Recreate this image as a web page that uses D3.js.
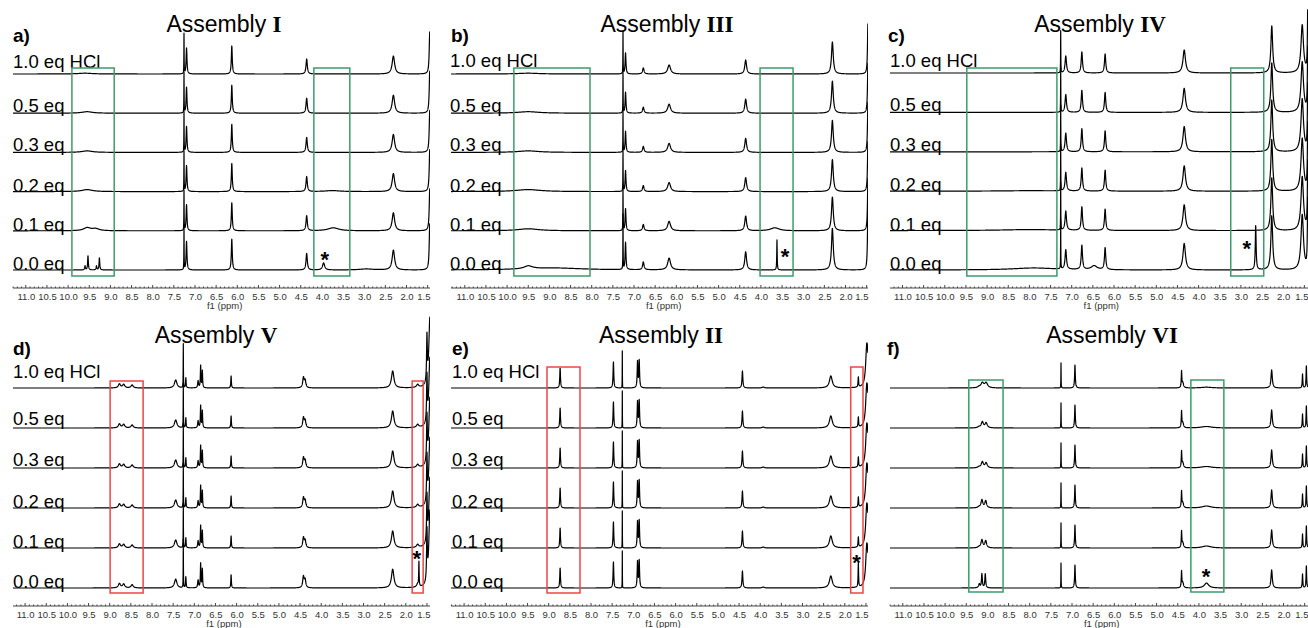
<!DOCTYPE html>
<html>
<head>
<meta charset="utf-8">
<script src="https://cdn.jsdelivr.net/npm/d3@7"></script>
<style>
  body { margin: 0; background: #fff; }
  text { font-family: "Liberation Sans", Arial, sans-serif; }
</style>
</head>
<body>
<svg id="chart" width="1308" height="628"></svg>
<script>

// ---------- data ----------
const rowLabels = ["1.0 eq HCl", "0.5 eq", "0.3 eq", "0.2 eq", "0.1 eq", "0.0 eq"];
const ppmTicks = d3.range(11.0, 1.49, -0.5);

// peaks common to every trace: [ppm, intensity, half width (ppm)]
// row specific peaks: [row, ppm, intensity, half width]  (row 0 = 1.0 eq ... 5 = 0.0 eq)

// Assembly I
const peaksI = [[7.26, 40, 0.003], [7.20, 26, 0.012], [6.13, 28, 0.013], [4.36, 15, 0.018],
  [2.31, 18, 0.035], [1.45, 42, 0.015]];
const rowPeaksI = [[0, 9.6, 0.8, 0.2], [1, 9.55, 1.5, 0.15], [2, 9.55, 1.5, 0.15], [3, 9.55, 2, 0.15],
  [3, 3.75, 1, 0.2], [4, 9.55, 3, 0.1], [4, 9.35, 2, 0.1], [4, 3.73, 3, 0.15],
  [5, 9.60, 4, 0.01], [5, 9.53, 14, 0.01], [5, 9.33, 4, 0.01], [5, 9.26, 12, 0.01],
  [5, 3.96, 7, 0.03], [5, 2.95, 1, 0.2]];
const rowScaleI = [1, 1, 1, 1, 1, 1.1];
const boxesI = [[9.91, 8.91], [4.19, 3.34]];
const starI = [3.93, 14];

// Assembly III
const peaksIII = [[7.26, 42, 0.003], [7.20, 21, 0.012], [6.78, 6, 0.02], [6.17, 9, 0.04],
  [4.36, 14, 0.025], [2.31, 32, 0.025], [1.47, 50, 0.012]];
const rowPeaksIII = [[0, 9.5, 0.8, 0.3], [1, 9.5, 1.5, 0.3], [2, 9.5, 1.5, 0.3], [3, 9.5, 2, 0.35],
  [4, 9.5, 2, 0.3], [4, 3.67, 3, 0.12], [5, 9.5, 3, 0.12], [5, 8.9, 2, 0.8],
  [5, 3.62, 30, 0.006]];
const rowScaleIII = [1, 1, 1, 1, 1.05, 1.3];
const boxesIII = [[9.84, 8.04], [4.02, 3.24]];
const starIII = [3.43, 17];

// Assembly IV
const peaksIV = [[7.26, 42, 0.003], [7.14, 17, 0.02], [6.76, 21, 0.018], [6.21, 19, 0.018],
  [4.34, 23, 0.035], [2.27, 47, 0.025], [1.55, 48, 0.035], [1.42, 60, 0.01]];
const rowPeaksIV = [[3, 8.0, 0.5, 0.8], [4, 8.0, 1, 0.8], [5, 7.9, 2, 0.6], [5, 6.47, 4, 0.08],
  [5, 2.65, 44, 0.012]];
const rowScaleIV = [1, 1.05, 1.1, 1.1, 1.12, 1.15];
const boxesIV = [[9.48, 7.35], [3.24, 2.46]];
const starIV = [2.86, 25];

// Assembly V
const peaksV = [[8.77, 4, 0.03], [8.67, 3.5, 0.03], [8.47, 3, 0.03], [7.44, 8, 0.035],
  [7.26, 44, 0.003], [7.20, 10, 0.008], [6.91, 7, 0.012], [6.85, 22, 0.008], [6.81, 17, 0.008],
  [6.13, 12, 0.008], [4.42, 10, 0.02], [4.38, 7, 0.02], [2.31, 17, 0.035], [1.72, 3, 0.03],
  [1.50, 45, 0.01], [1.43, 70, 0.03]];
const rowPeaksV = [[5, 1.69, 24, 0.006]];
const rowScaleV = [1, 1, 1, 1, 1, 1.1];
const boxesV = [[8.99, 8.21], [1.85, 1.59]];
const starV = [1.74, 33];

// Assembly II
const peaksII = [[8.73, 20, 0.01], [7.47, 26, 0.01], [7.26, 37, 0.002], [6.90, 26, 0.01],
  [6.86, 27, 0.01], [4.42, 17, 0.012], [3.93, 1, 0.03], [2.33, 12, 0.04], [1.68, 10, 0.008],
  [1.48, 40, 0.03], [1.42, 50, 0.02]];
const rowPeaksII = [[5, 1.68, 14, 0.006]];
const rowScaleII = [1, 1, 1, 1, 1, 1];
const boxesII = [[9.04, 8.26], [1.86, 1.57]];
const starII = [1.72, 29];

// Assembly VI
const peaksVI = [[9.20, 1, 0.03], [7.26, 25, 0.003], [6.93, 23, 0.01], [4.41, 16, 0.008],
  [4.38, 5, 0.02], [2.28, 18, 0.018], [1.55, 14, 0.008], [1.46, 22, 0.008]];
const rowPeaksVI = [[0, 9.12, 5, 0.04], [0, 9.03, 5, 0.04], [0, 3.82, 0.8, 0.15],
  [1, 9.12, 6, 0.03], [1, 9.03, 5, 0.03], [1, 3.82, 1.5, 0.15],
  [2, 9.12, 6, 0.03], [2, 9.03, 5, 0.03], [2, 3.82, 1.5, 0.15],
  [3, 9.13, 8, 0.025], [3, 9.04, 7, 0.025], [3, 3.82, 2, 0.12],
  [4, 9.13, 8, 0.025], [4, 9.04, 7, 0.025], [4, 3.82, 2, 0.12],
  [5, 9.19, 3, 0.015], [5, 9.13, 14, 0.012], [5, 9.05, 14, 0.012], [5, 3.82, 5, 0.06]];
const rowScaleVI = [1, 1, 1, 1, 1, 1];
const boxesVI = [[9.44, 8.63], [4.19, 3.41]];
const starVI = [3.83, 15];

// ---------- layout ----------
const GREEN = "#3d9c6c", RED = "#ee4545";
const panels = [
  { letter: "a)", numeral: "I", peaks: peaksI, rowPeaks: rowPeaksI, rowScale: rowScaleI, boxes: boxesI, star: starI,
    color: GREEN, left: 13, right: 430, x11: 25.8, base: 74, step: 39.2, axisY: 288, boxY: [68, 276],
    titleX: 224, titleY: 32, letterX: 13, letterY: 42, labelX: 13, labelOff: [6, 1, 1, 0, 0, 0], labels: true },
  { letter: "b)", numeral: "III", peaks: peaksIII, rowPeaks: rowPeaksIII, rowScale: rowScaleIII, boxes: boxesIII, star: starIII,
    color: GREEN, left: 451, right: 868, x11: 464.8, base: 74, step: 39.2, axisY: 288, boxY: [68, 276],
    titleX: 667, titleY: 32, letterX: 451, letterY: 42, labelX: 450, labelOff: [7, 1, 1, 0, 0, 0], labels: true },
  { letter: "c)", numeral: "IV", peaks: peaksIV, rowPeaks: rowPeaksIV, rowScale: rowScaleIV, boxes: boxesIV, star: starIV,
    color: GREEN, left: 890, right: 1308, x11: 902.5, base: 73, step: 39.4, axisY: 288, boxY: [68, 276],
    titleX: 1100, titleY: 32, letterX: 888, letterY: 42, labelX: 890, labelOff: [6, 1, 1, 0, 0, 0], labels: true },
  { letter: "d)", numeral: "V", peaks: peaksV, rowPeaks: rowPeaksV, rowScale: rowScaleV, boxes: boxesV, star: starV,
    color: RED, left: 13, right: 430, x11: 25.1, base: 388, step: 40, axisY: 606, boxY: [381, 593],
    titleX: 216, titleY: 343, letterX: 13, letterY: 355, labelX: 13, labelOff: [10, 3, 2, 0, 0, 0], labels: true },
  { letter: "e)", numeral: "II", peaks: peaksII, rowPeaks: rowPeaksII, rowScale: rowScaleII, boxes: boxesII, star: starII,
    color: RED, left: 451, right: 868, x11: 464.1, base: 388, step: 40, axisY: 606, boxY: [367, 593],
    titleX: 661, titleY: 343, letterX: 452, letterY: 355, labelX: 452, labelOff: [10, 3, 2, 0, 0, 0], labels: true },
  { letter: "f)", numeral: "VI", peaks: peaksVI, rowPeaks: rowPeaksVI, rowScale: rowScaleVI, boxes: boxesVI, star: starVI,
    color: GREEN, left: 890, right: 1308, x11: 902.8, base: 388, step: 40, axisY: 606, boxY: [380, 592],
    titleX: 1112, titleY: 343, letterX: 887, letterY: 355, labelX: 890, labelOff: [0, 0, 0, 0, 0, 0], labels: false }
];
const PX_PER_PPM = 42.3;

const svg = d3.select("#chart");

panels.forEach((p, pi) => {
  const g = svg.append("g");

  // ppm -> x
  const x = d3.scaleLinear()
    .domain([11.0, 1.5])
    .range([p.x11, p.x11 + 9.5 * PX_PER_PPM]);
  const ppmLeft = x.invert(p.left), ppmRight = x.invert(p.right);

  const clipId = "clip" + pi;
  svg.append("clipPath").attr("id", clipId)
    .append("rect").attr("x", p.left).attr("y", 0).attr("width", p.right - p.left).attr("height", 628);

  // sample grid (plus exact peak centres so spikes keep their tops)
  const centres = p.peaks.map(d => d[0]).concat(p.rowPeaks.map(d => d[1]));
  const grid = d3.range(ppmLeft, ppmRight, -0.002).concat(centres)
    .filter(v => v <= ppmLeft && v >= ppmRight - 0.2)
    .sort((a, b) => b - a);

  const lorentz = (v, c, h, w) => h / (1 + ((v - c) / w) ** 2);

  // ---------- traces ----------
  const traces = g.append("g").attr("clip-path", `url(#${clipId})`);
  rowLabels.forEach((lab, r) => {
    const base = p.base + r * p.step;
    const y = d3.scaleLinear().domain([0, 50]).range([base, base - 50]);
    const own = p.rowPeaks.filter(d => d[0] === r);
    const s = p.rowScale[r];
    const pts = grid.map(v => {
      let val = 0;
      p.peaks.forEach(([c, h, w]) => { val += lorentz(v, c, h * s, w); });
      own.forEach(([, c, h, w]) => { val += lorentz(v, c, h, w); });
      return [v, val];
    });
    traces.append("path")
      .datum(pts)
      .attr("fill", "none")
      .attr("stroke", "#000")
      .attr("stroke-width", 1.2)
      .attr("stroke-linejoin", "round")
      .attr("d", d3.line().x(d => x(d[0])).y(d => y(d[1])));

    if (p.labels) {
      g.append("text")
        .attr("x", p.labelX)
        .attr("y", base - p.labelOff[r])
        .attr("font-size", 18.5)
        .attr("fill", "#000")
        .text(lab);
    }
  });

  // ---------- boxes ----------
  p.boxes.forEach(([a, b]) => {
    g.append("rect")
      .attr("x", x(a)).attr("y", p.boxY[0])
      .attr("width", x(b) - x(a)).attr("height", p.boxY[1] - p.boxY[0])
      .attr("fill", "none").attr("stroke", p.color).attr("stroke-width", 1.5);
  });

  // ---------- asterisk ----------
  const starBase = p.base + 5 * p.step;
  g.append("text")
    .attr("x", x(p.star[0])).attr("y", starBase - p.star[1] + 11)
    .attr("text-anchor", "middle").attr("font-size", 22).attr("font-weight", "bold")
    .text("*");

  // ---------- axis ----------
  const axis = d3.axisBottom(x)
    .tickValues(ppmTicks)
    .tickFormat(d3.format(".1f"))
    .tickSize(0)
    .tickPadding(5);
  const ax = g.append("g").attr("transform", `translate(0,${p.axisY})`).call(axis);
  ax.select(".domain").remove();
  ax.selectAll("text")
    .attr("font-family", "'DejaVu Sans', Verdana, sans-serif")
    .attr("font-size", 9.5).attr("fill", "#333");
  // keep the last label inside the panel edge
  ax.selectAll(".tick")
    .filter(d => x(d) + 8 > p.right)
    .select("text")
    .attr("text-anchor", "end")
    .attr("x", d => p.right - x(d));
  g.append("line")
    .attr("x1", p.left).attr("x2", p.right)
    .attr("y1", p.axisY).attr("y2", p.axisY)
    .attr("stroke", "#444").attr("stroke-width", 1);
  const minor = d3.range(11.5, 1.3, -0.1).filter(v => x(v) >= p.left && x(v) <= p.right);
  g.selectAll(null).data(minor).enter().append("line")
    .attr("x1", d => x(d)).attr("x2", d => x(d))
    .attr("y1", p.axisY).attr("y2", d => p.axisY - (Math.abs(d * 2 - Math.round(d * 2)) < 0.01 ? 3 : 1.5))
    .attr("stroke", "#444").attr("stroke-width", 1);
  g.append("text")
    .attr("x", x(6.3)).attr("y", p.axisY + 21)
    .attr("text-anchor", "middle")
    .attr("font-family", "'DejaVu Sans', Verdana, sans-serif")
    .attr("font-size", 9.5).attr("fill", "#333")
    .text("f1 (ppm)");

  // ---------- title & letter ----------
  const title = g.append("text")
    .attr("x", p.titleX).attr("y", p.titleY)
    .attr("text-anchor", "middle").attr("font-size", 23);
  title.append("tspan").text("Assembly ");
  title.append("tspan")
    .attr("font-family", "'Liberation Serif', 'Times New Roman', serif")
    .attr("font-weight", "bold")
    .text(p.numeral);
  g.append("text")
    .attr("x", p.letterX).attr("y", p.letterY)
    .attr("font-size", 19).attr("font-weight", "bold")
    .text(p.letter);
});
</script>
</body>
</html>
